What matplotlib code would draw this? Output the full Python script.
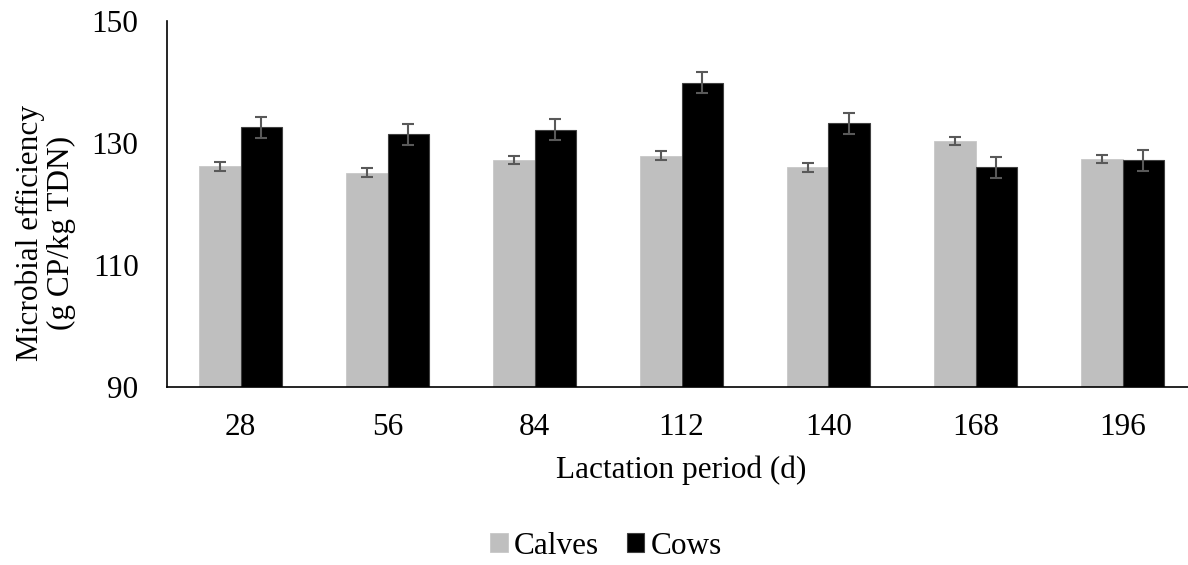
import matplotlib
matplotlib.use("Agg")
import matplotlib.pyplot as plt
import numpy as np

# Lactation days and microbial efficiency (g CP/kg TDN)
periods = ["28", "56", "84", "112", "140", "168", "196"]
calves = [126.2, 125.1, 127.2, 127.9, 126.0, 130.3, 127.4]
calves_err = [0.72, 0.72, 0.70, 0.72, 0.70, 0.68, 0.66]
cows = [132.6, 131.4, 132.2, 139.9, 133.2, 126.0, 127.2]
cows_err = [1.72, 1.78, 1.75, 1.75, 1.72, 1.72, 1.72]

plt.rcParams['font.family'] = ['Liberation Serif', 'DejaVu Serif']
FS = 22.5

fig = plt.figure(figsize=(11.88, 5.65), dpi=100)
# axes run slightly past the right edge, as in the original layout
ax = fig.add_axes([167 / 1188, 178 / 565, 1029 / 1188, 366 / 565])

x = np.arange(len(periods))
w = 0.283
err_kw = dict(ecolor='#595959', elinewidth=1.5, capsize=4.5, capthick=1.5)

ax.bar(x - w / 2, calves, w, yerr=calves_err, color='#bfbfbf',
       edgecolor='#c8c8c8', linewidth=0.6, label='Calves', error_kw=err_kw)
ax.bar(x + w / 2, cows, w, yerr=cows_err, color='black',
       edgecolor='#404040', linewidth=0.8, label='Cows', error_kw=err_kw)

ax.set_xlim(-0.5, len(periods) - 0.5)
ax.set_ylim(90, 150)
ax.set_yticks([90, 110, 130, 150])
ax.set_xticks(x)
ax.set_xticklabels(periods)
ax.tick_params(axis='both', length=0, labelsize=FS, pad=19)
ax.tick_params(axis='y', pad=20.5)

for side in ['top', 'right']:
    ax.spines[side].set_visible(False)
for side in ['left', 'bottom']:
    ax.spines[side].set_linewidth(1.2)
    ax.spines[side].set_color('black')

fig.text(46 / 1188, 1 - 233 / 565, "Microbial efficiency\n(g CP/kg TDN)",
         rotation=90, ha='center', va='center', fontsize=FS,
         multialignment='center', linespacing=1.1)
fig.text(681 / 1188, 1 - 470 / 565, "Lactation period (d)",
         ha='center', va='center', fontsize=FS)

fig.legend(loc='center', bbox_to_anchor=(606 / 1188, 1 - 546 / 565), ncol=2,
           frameon=False, fontsize=FS, handlelength=0.55, handleheight=0.55,
           handletextpad=0.2, columnspacing=0.9, borderaxespad=0)

fig.savefig("out.png", dpi=100)
